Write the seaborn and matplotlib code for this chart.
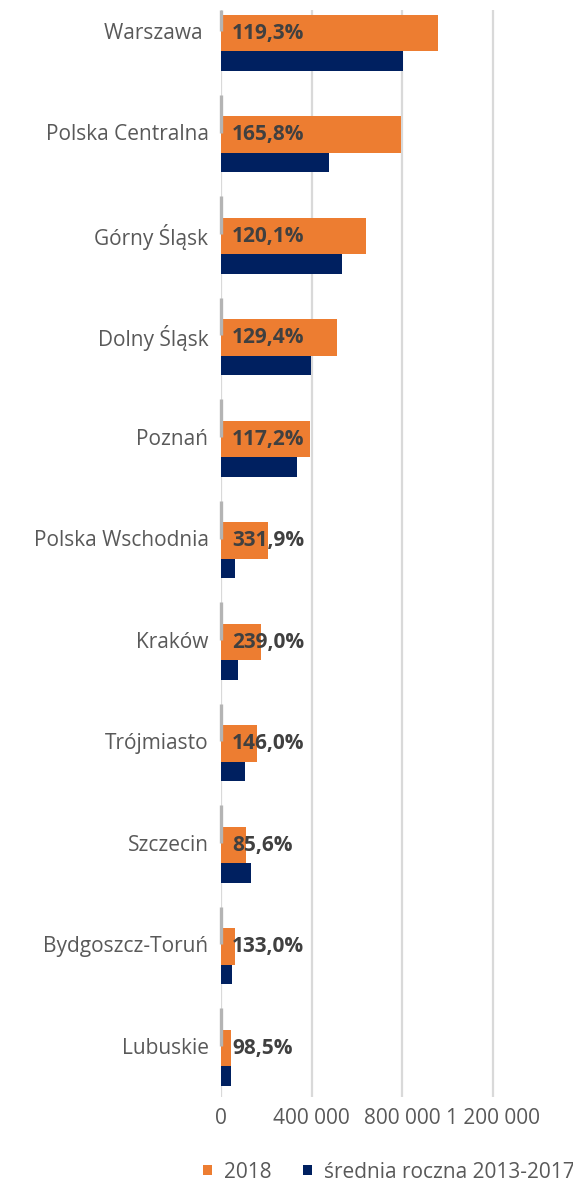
import matplotlib
matplotlib.use("Agg")
import matplotlib.pyplot as plt
import seaborn as sns
import pandas as pd
import numpy as np

categories = ["Warszawa ", "Polska Centralna", "Górny Śląsk", "Dolny Śląsk", "Poznań",
              "Polska Wschodnia", "Kraków", "Trójmiasto", "Szczecin", "Bydgoszcz-Toruń", "Lubuskie"]
values_2018 = [960000, 795000, 642000, 512000, 393000, 208000, 175000, 158000, 112000, 62000, 43500]
values_avg = [805000, 479000, 534500, 396000, 336000, 62700, 73200, 108200, 131000, 46600, 44200]
pct_labels = ["119,3%", "165,8%", "120,1%", "129,4%", "117,2%", "331,9%", "239,0%",
              "146,0%", "85,6%", "133,0%", "98,5%"]
xticks = [0, 400000, 800000, 1200000]
xtick_labels = ["0", "400 000", "800 000", "1 200 000"]

ORANGE = "#ED7D31"
NAVY = "#002060"
FS = 15

sns.set_theme(style="white")
plt.rcParams["font.family"] = ["Open Sans", "DejaVu Sans"]

pos = np.arange(len(categories), dtype=float)
df = pd.DataFrame({"cat": categories, "pos": pos,
                   "v2018": values_2018, "avg": values_avg})
df["pos_o"] = df["pos"] + 0.02
df["pos_n"] = df["pos"] + 0.295

fig = plt.figure(figsize=(5.73, 11.87), dpi=100)
ax = fig.add_axes([221 / 573, 90 / 1187, 1 - 221 / 573, (1097 - 10) / 1187])

sns.barplot(data=df, x="v2018", y="pos_o", orient="h", native_scale=True,
            width=0.36, color=ORANGE, saturation=1, label="2018", ax=ax, zorder=3,
            linewidth=0, edgecolor="none")
sns.barplot(data=df, x="avg", y="pos_n", orient="h", native_scale=True,
            width=0.19, color=NAVY, saturation=1, label="średnia roczna 2013-2017",
            ax=ax, zorder=3, linewidth=0, edgecolor="none")

# gridlines
ax.set_xticks(xticks)
ax.set_xticklabels(xtick_labels)
ax.grid(axis="x", color="#D9D9D9", linewidth=1.6, zorder=0)
ax.grid(axis="y", visible=False)
ax.set_xlim(0, 352 / 90.5 * 400000)
y_top = -21 / 101.5
ax.set_ylim(10 + 51 / 101.5, y_top)

# small gray marks at category axis
ax.vlines(np.zeros(len(pos)), np.maximum(pos - 0.37, y_top), pos, color="#B4B4B4",
          linewidth=2.4, zorder=6, clip_on=False, capstyle="butt")

ax.set_yticks(pos)
ax.set_yticklabels(categories)
ax.tick_params(axis="y", length=0, pad=9, labelsize=FS, labelcolor="#595959")
ax.tick_params(axis="x", length=0, pad=8, labelsize=FS, labelcolor="#595959")
ax.set_xlabel("")
ax.set_ylabel("")
for s in ax.spines.values():
    s.set_visible(False)

for p, lab in zip(df["pos_o"], pct_labels):
    ax.annotate(lab, xy=(0, p), xytext=(8, 0), textcoords="offset points",
                ha="left", va="center", fontsize=FS, fontweight="bold",
                color="#404040", zorder=7)

handles, labels = ax.get_legend_handles_labels()
leg = fig.legend(handles, labels, loc="center", bbox_to_anchor=(389 / 573, 1 - 1172 / 1187),
                 ncol=2, frameon=False, fontsize=FS, handlelength=0.42, handleheight=0.42,
                 handletextpad=0.6, columnspacing=1.5, labelcolor="#595959")
if ax.legend_:
    ax.legend_.remove()

fig.savefig("out.png", dpi=100)
